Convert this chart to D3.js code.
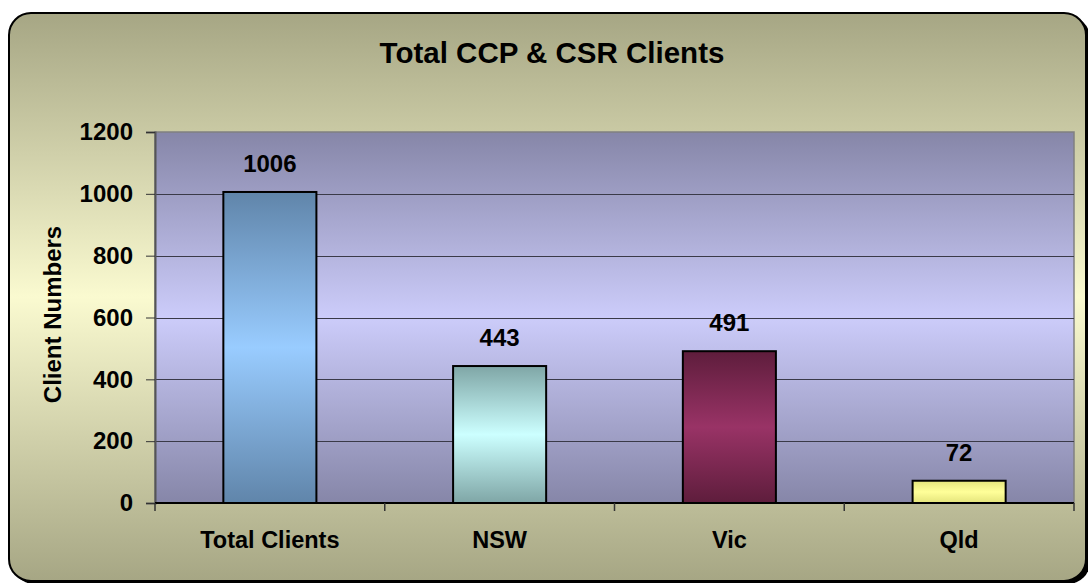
<!DOCTYPE html>
<html>
<head>
<meta charset="utf-8">
<script src="https://cdn.jsdelivr.net/npm/d3@7"></script>
<style>
  body { margin: 0; background: #ffffff; }
  svg { display: block; font-family: "Liberation Sans", Arial, sans-serif; }
</style>
</head>
<body>
<div id="chart"></div>
<script>
// chart data
const categories = ["Total Clients", "NSW", "Vic", "Qld"];
const clientValues = [1006, 443, 491, 72];
const yTicks = [0, 200, 400, 600, 800, 1000, 1200];
const barEdgeColors = ["#6085aa", "#7fa6a6", "#5e1d3c", "#e4e47c"];
const barMidColors = ["#99ccff", "#ccffff", "#993366", "#ffff99"];

const W = 1088, H = 583;
const margin = { top: 132, right: 14, bottom: 80, left: 155 };
const plotW = W - margin.left - margin.right;
const plotH = H - margin.top - margin.bottom;

const svg = d3.select("#chart").append("svg")
    .attr("width", W)
    .attr("height", H);

const defs = svg.append("defs");

function vGradient(id, edge, mid) {
    const g = defs.append("linearGradient")
        .attr("id", id)
        .attr("x1", 0).attr("y1", 0).attr("x2", 0).attr("y2", 1);
    g.append("stop").attr("offset", "0%").attr("stop-color", edge);
    g.append("stop").attr("offset", "50%").attr("stop-color", mid);
    g.append("stop").attr("offset", "100%").attr("stop-color", edge);
}

vGradient("frameGrad", "#a6a684", "#fafad0");
vGradient("plotGrad", "#8686a8", "#ccccfa");
categories.forEach((c, i) => vGradient(`bar${i}`, barEdgeColors[i], barMidColors[i]));

// outer frame with shadow
svg.append("rect")
    .attr("x", 12).attr("y", 16)
    .attr("width", 1078).attr("height", 568)
    .attr("rx", 22)
    .attr("fill", "#000");

svg.append("rect")
    .attr("x", 9).attr("y", 13)
    .attr("width", 1077).attr("height", 568)
    .attr("rx", 22)
    .attr("fill", "url(#frameGrad)")
    .attr("stroke", "#000")
    .attr("stroke-width", 2);

const g = svg.append("g")
    .attr("transform", `translate(${margin.left},${margin.top})`);

const x = d3.scaleBand()
    .domain(categories)
    .range([0, plotW])
    .padding(0);

const y = d3.scaleLinear()
    .domain([0, 1200])
    .range([plotH, 0]);

// plot area
g.append("rect")
    .attr("width", plotW)
    .attr("height", plotH)
    .attr("fill", "url(#plotGrad)")
    .attr("stroke", "#808080")
    .attr("stroke-width", 1.5);

// gridlines
g.selectAll(".grid")
    .data(yTicks.filter(t => t > 0 && t < 1200))
    .join("line")
    .attr("class", "grid")
    .attr("x1", 0).attr("x2", plotW)
    .attr("y1", d => Math.round(y(d)) + 0.5)
    .attr("y2", d => Math.round(y(d)) + 0.5)
    .attr("stroke", "#3a3a48")
    .attr("stroke-width", 1);

// y axis
const yAxis = g.append("g")
    .call(d3.axisLeft(y).tickValues(yTicks).tickFormat(d3.format("d")).tickSize(9).tickPadding(13));
yAxis.select(".domain").attr("stroke", "#555").attr("stroke-width", 2);
yAxis.selectAll(".tick line").attr("stroke", "#333");
yAxis.selectAll(".tick text")
    .attr("font-size", "24px")
    .attr("font-weight", "bold")
    .attr("fill", "#000")
    .attr("font-family", "Liberation Sans, Arial, sans-serif");

// x axis: ticks between categories
const xAxisG = g.append("g").attr("transform", `translate(0,${plotH})`);
xAxisG.append("line")
    .attr("x1", 0).attr("x2", plotW)
    .attr("stroke", "#000").attr("stroke-width", 2);
const boundaries = categories.map(c => x(c)).concat([plotW]);
xAxisG.selectAll(".xtick")
    .data(boundaries)
    .join("line")
    .attr("class", "xtick")
    .attr("x1", d => d).attr("x2", d => d)
    .attr("y1", 0).attr("y2", 8)
    .attr("stroke", "#333").attr("stroke-width", 1.5);
xAxisG.selectAll(".xlabel")
    .data(categories)
    .join("text")
    .attr("class", "xlabel")
    .attr("x", d => x(d) + x.bandwidth() / 2)
    .attr("y", 45)
    .attr("text-anchor", "middle")
    .attr("font-size", "23.5px")
    .attr("font-weight", "bold")
    .text(d => d);

// bars
const barW = x.bandwidth() * 0.405;
g.selectAll(".bar")
    .data(clientValues)
    .join("rect")
    .attr("class", "bar")
    .attr("x", (d, i) => x(categories[i]) + (x.bandwidth() - barW) / 2)
    .attr("y", d => y(d))
    .attr("width", barW)
    .attr("height", d => plotH - y(d))
    .attr("fill", (d, i) => `url(#bar${i})`)
    .attr("stroke", "#000")
    .attr("stroke-width", 2);

// value labels
g.selectAll(".val")
    .data(clientValues)
    .join("text")
    .attr("class", "val")
    .attr("x", (d, i) => x(categories[i]) + x.bandwidth() / 2)
    .attr("y", d => y(d) - 20)
    .attr("text-anchor", "middle")
    .attr("font-size", "24px")
    .attr("font-weight", "bold")
    .text(d => d);

// y axis title
svg.append("text")
    .attr("transform", `translate(61,${margin.top + plotH / 2 - 3}) rotate(-90)`)
    .attr("text-anchor", "middle")
    .attr("font-size", "24px")
    .attr("font-weight", "bold")
    .text("Client Numbers");

// chart title
svg.append("text")
    .attr("x", 552)
    .attr("y", 63)
    .attr("text-anchor", "middle")
    .attr("font-size", "29.5px")
    .attr("font-weight", "bold")
    .text("Total CCP & CSR Clients");
</script>
</body>
</html>
